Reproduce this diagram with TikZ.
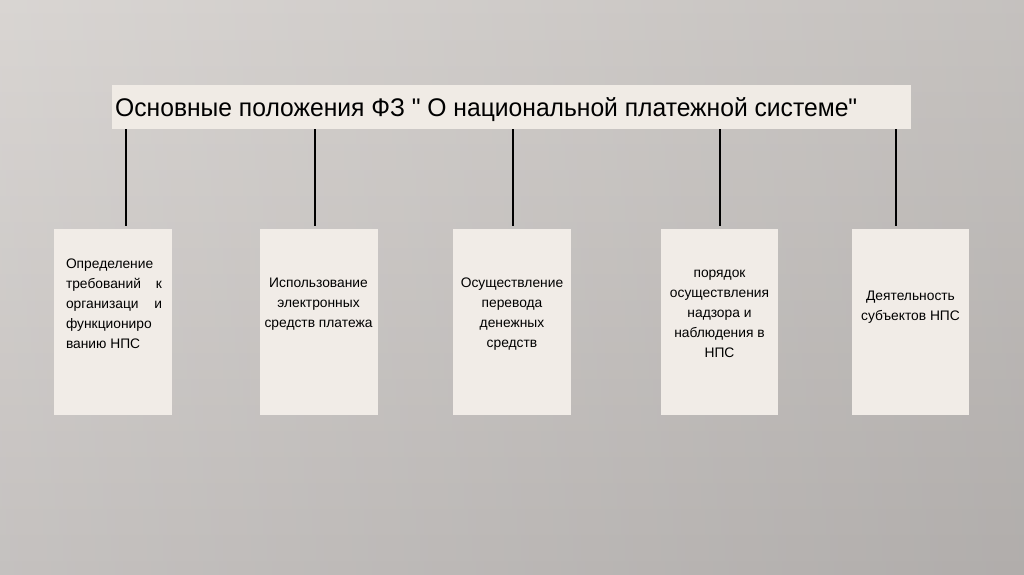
\documentclass[tikz,border=0pt]{standalone}
\usepackage{fontspec}
\setmainfont{Liberation Sans}
\newfontfamily\titlefont{Liberation Sans}
\usepackage{graphicx}
\definecolor{boxfill}{HTML}{F1ECE7}
\definecolor{titlefill}{HTML}{F0EBE5}
\definecolor{bgtop}{HTML}{D6D2CF}
\definecolor{bgbot}{HTML}{C0BCBA}
\tikzset{
  card/.style={draw=none, fill=boxfill, inner sep=0pt, minimum width=118pt, minimum height=186pt, anchor=north west},
  conn/.style={draw=black, line width=2.6pt},
  txt/.style={inner sep=0pt, anchor=base, font=\fontsize{13.8}{20}\selectfont}
}
\begin{document}
\begin{tikzpicture}[x=1pt,y=-1pt]
\useasboundingbox (0,0) rectangle (1024,574);
\shade[top color=bgtop, bottom color=bgbot] (0,0) rectangle (1024,574);
\shade[left color=white, right color=black, opacity=0.08] (0,0) rectangle (1024,574);
% title
\node[draw=none, fill=titlefill, inner sep=0pt, minimum width=799pt, minimum height=44pt, anchor=north west] (title) at (112,85) {};
\node[inner sep=0pt, anchor=base west] (ttext) at (115,116.5) {\resizebox{742pt}{\height}{\titlefont\fontsize{25.5}{28}\selectfont Основные положения ФЗ " О национальной платежной системе"}};
% boxes
\node[card] (b1) at (54,229) {};
\node[card] (b2) at (260,229) {};
\node[card] (b3) at (453,229) {};
\node[card, minimum width=117pt] (b4) at (661,229) {};
\node[card, minimum width=117pt] (b5) at (852,229) {};
% connector x positions
\coordinate (c1) at (126,0);
\coordinate (c2) at (315,0);
\coordinate (c3) at (513,0);
\coordinate (c4) at (720,0);
\coordinate (c5) at (896,0);
\draw[conn] (title.south -| c1) -- ([yshift=3pt]b1.north -| c1);
\draw[conn] (title.south -| c2) -- ([yshift=3pt]b2.north -| c2);
\draw[conn] (title.south -| c3) -- ([yshift=3pt]b3.north -| c3);
\draw[conn] (title.south -| c4) -- ([yshift=3pt]b4.north -| c4);
\draw[conn] (title.south -| c5) -- ([yshift=3pt]b5.north -| c5);
% texts
\node[txt] (t1) at (114,268) {\vtop{\hsize=96pt\raggedright\parindent=0pt
Определение\\
требований\hfill к\\
организаци\hfill и\\
функциониро\\
ванию НПС\par}};
\node[txt] (t2) at (318.5,287) {\vtop{\hsize=115pt\centering\parindent=0pt
Использование\\
электронных\\
средств платежа\par}};
\node[txt] (t3) at (512,287) {\vtop{\hsize=115pt\centering\parindent=0pt
Осуществление\\
перевода\\
денежных\\
средств\par}};
\node[txt] (t4) at (719.5,277) {\vtop{\hsize=115pt\centering\parindent=0pt
порядок\\
осуществления\\
надзора и\\
наблюдения в\\
НПС\par}};
\node[txt] (t5) at (910.5,300) {\vtop{\hsize=115pt\centering\parindent=0pt
Деятельность\\
субъектов НПС\par}};
\end{tikzpicture}
\end{document}
